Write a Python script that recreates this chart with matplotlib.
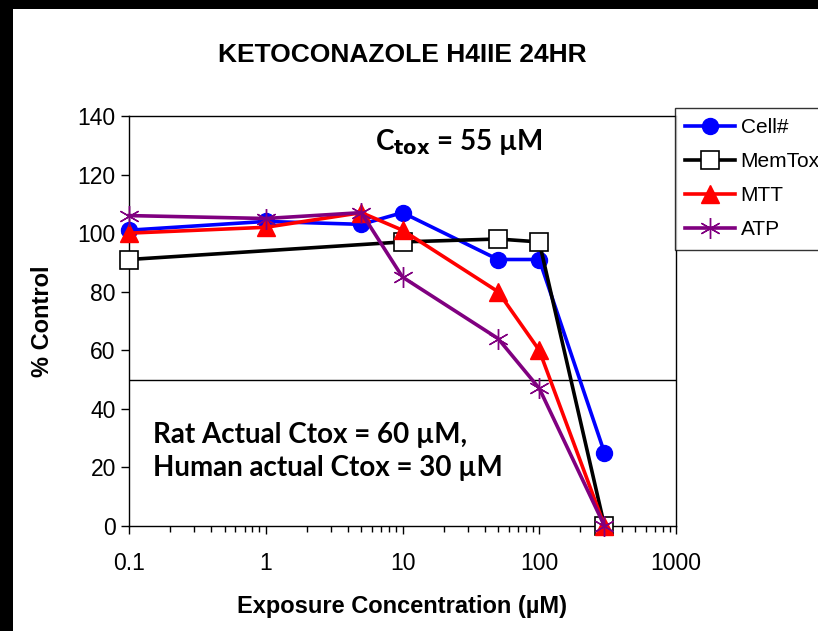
import numpy as np
import matplotlib.pyplot as plt
from matplotlib.patches import Rectangle

# 浓度 (µM) 与各检测指标的 % Control
conc = [0.1, 1, 5, 10, 50, 100, 300]
cell_num = [101, 104, 103, 107, 91, 91, 25]
memtox_conc = [0.1, 10, 50, 100, 300]
memtox = [91, 97, 98, 97, 0]
mtt = [100, 102, 107, 101, 80, 60, 0]
atp = [106, 105, 107, 85, 64, 47, 0]

plt.rcParams['font.family'] = ['Liberation Sans', 'DejaVu Sans']

fig = plt.figure(figsize=(8.18, 6.31), dpi=100, facecolor='black')
# 白色幻灯片区域
fig.patches.append(Rectangle((13 / 818, 0), 1, 1 - 9 / 631, transform=fig.transFigure,
                             facecolor='white', edgecolor='none', zorder=-1))

ax = fig.add_axes([129 / 818, 105 / 631, 547 / 818, 410 / 631])
ax.set_xscale('log')
ax.set_xlim(0.1, 1000)
ax.set_ylim(0, 140)

ax.plot(conc, cell_num, color='#0000FF', lw=2.6, marker='o', ms=11.5,
        label='Cell#', clip_on=False, zorder=3)
ax.plot(memtox_conc, memtox, color='black', lw=2.6, marker='s', ms=12.5,
        mfc='white', mec='black', mew=1.2, label='MemTox', clip_on=False, zorder=4)
ax.plot(conc, mtt, color='#FF0000', lw=2.6, marker='^', ms=13.5,
        label='MTT', clip_on=False, zorder=5)
ax.plot(conc, atp, color='#800080', lw=2.6, marker=(6, 2, 0), ms=15, mew=1.0,
        mec='#800080', label='ATP', clip_on=False, zorder=6)

# 50% 参考线
ax.axhline(50, color='black', lw=1.0, zorder=2)

ax.set_yticks(np.arange(0, 141, 20))
ax.set_xticks([0.1, 1, 10, 100, 1000])
ax.set_xticklabels(['0.1', '1', '10', '100', '1000'])
ax.tick_params(axis='both', which='major', labelsize=16.5, direction='out', length=6, width=1)
ax.tick_params(axis='x', which='minor', direction='out', length=4, width=1)
ax.tick_params(axis='x', pad=13)
for s in ax.spines.values():
    s.set_linewidth(1.0)

ax.set_title('KETOCONAZOLE H4IIE 24HR', fontsize=19, fontweight='bold', pad=39)
ax.set_xlabel('Exposure Concentration (µM)', fontsize=17, fontweight='bold', labelpad=14)
ax.set_ylabel('% Control', fontsize=17, fontweight='bold', labelpad=17)

ax.text(6.3, 131, r'C$_{\mathbf{tox}}$ = 55 µM', fontsize=20, fontweight='bold',
        family=['Lato', 'DejaVu Sans'], va='center', ha='left')
ax.text(0.15, 25.4, 'Rat Actual Ctox = 60 µM,\nHuman actual Ctox = 30 µM', fontsize=20,
        fontweight='bold', family=['Lato', 'DejaVu Sans'], va='center', ha='left',
        linespacing=1.32)

# 图例放在绘图区右侧，部分超出画布
leg = ax.legend(loc='upper left', bbox_to_anchor=(546 / 547, 1.02), fontsize=15,
                frameon=True, fancybox=False, edgecolor='black', handlelength=2.4,
                handletextpad=0.25, borderpad=0.5, labelspacing=0.72, borderaxespad=0)
leg.get_frame().set_linewidth(1.0)

fig.savefig('out.png', dpi=100, facecolor=fig.get_facecolor())
